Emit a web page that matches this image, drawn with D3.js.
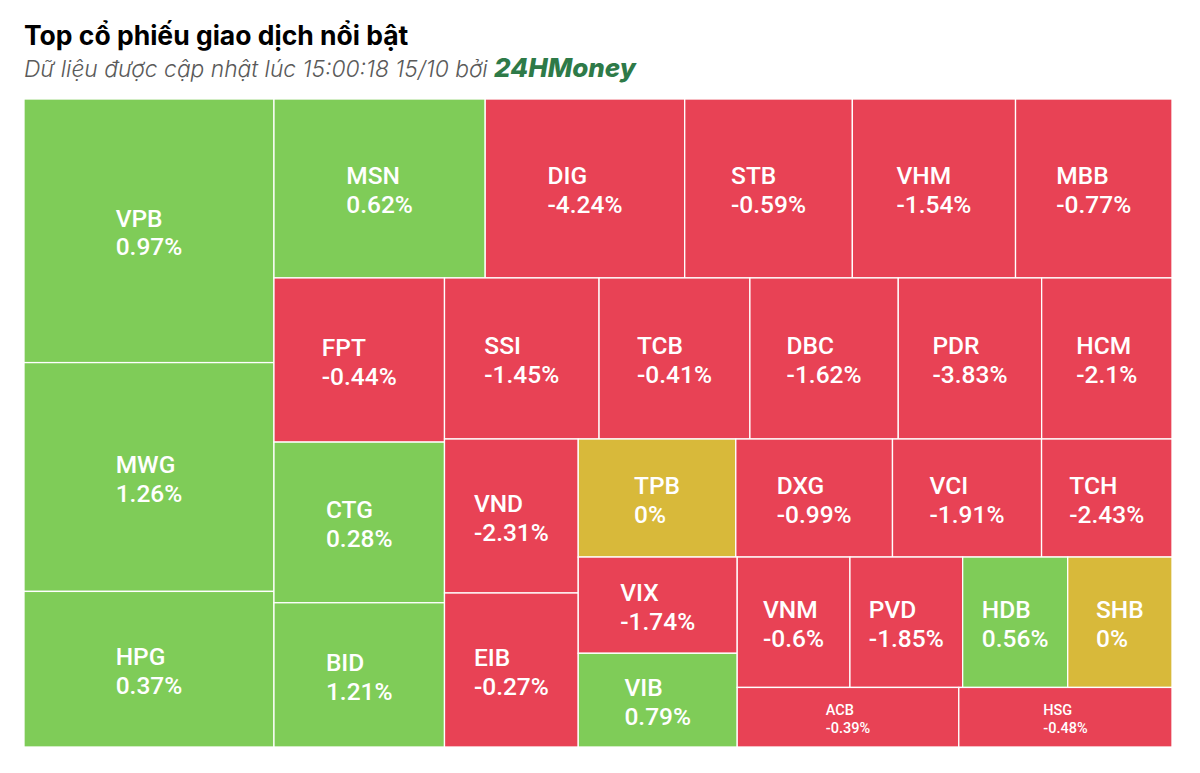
<!DOCTYPE html>
<html>
<head>
<meta charset="utf-8">
<script src="https://cdn.jsdelivr.net/npm/d3@7"></script>
<style>
  body { margin: 0; background: #ffffff; }
  svg { display: block; }
</style>
</head>
<body>
<svg id="chart" width="1200" height="773"></svg>
<script>
// ---------------- data ----------------
const tickers = ["VPB","MWG","HPG","MSN","DIG","STB","VHM","MBB","FPT","CTG",
                 "BID","SSI","TCB","DBC","PDR","HCM","VND","EIB","TPB","DXG",
                 "VCI","TCH","VIX","VIB","VNM","PVD","HDB","SHB","ACB","HSG"];
// relative trading value (cell area)
const tradeValues = [659,572,389,378,357,300,292,280,280,274,
                     246,249,243,239,231,210,206,206,186,185,
                     176,154,153,149,147,147,137,136,132,127];
// price change, %
const changes = [0.97,1.26,0.37,0.62,-4.24,-0.59,-1.54,-0.77,-0.44,0.28,
                 1.21,-1.45,-0.41,-1.62,-3.83,-2.1,-2.31,-0.27,0,-0.99,
                 -1.91,-2.43,-1.74,0.79,-0.6,-1.85,0.56,0,-0.39,-0.48];

const titleText = "Top cổ phiếu giao dịch nổi bật";
const subtitleText = "Dữ liệu được cập nhật lúc 15:00:18 15/10 bởi ";
const brandText = "24HMoney";

// ---------------- layout ----------------
const W = 1200, H = 773;
const plot = { x: 24, y: 99, w: 1148, h: 648 };

const colorUp = "#7fcc58", colorDown = "#e84255", colorFlat = "#d8b93a";
const colorFor = v => v > 0 ? colorUp : (v < 0 ? colorDown : colorFlat);

// Alternating-direction squarified tiling (column, row, column, ...)
function alternatingSquarify(parent, x0, y0, x1, y1) {
  const nodes = parent.children;
  let x = x0, y = y0, w = x1 - x0, h = y1 - y0;
  const scale = (w * h) / parent.value;
  let dir = 0; // 0: stacked column at left, 1: row at top
  let row = [], rowSum = 0;

  function ratio(total, a) {
    const t = dir === 0 ? total / h : total / w;
    const l = a / t;
    return Math.max(t / l, l / t);
  }
  function place() {
    const fake = { children: row, value: rowSum };
    if (dir === 0) {
      const cw = rowSum * scale / h;
      d3.treemapSlice(fake, x, y, x + cw, y + h);
      x += cw; w -= cw;
    } else {
      const ch = rowSum * scale / w;
      d3.treemapDice(fake, x, y, x + w, y + ch);
      y += ch; h -= ch;
    }
    row = []; rowSum = 0;
  }
  nodes.forEach(node => {
    if (row.length) {
      const a = row[row.length - 1].value * scale;
      const cur = ratio(rowSum * scale, a);
      const nxt = ratio((rowSum + node.value) * scale, a);
      if (nxt > cur) { place(); dir = 1 - dir; }
    }
    row.push(node); rowSum += node.value;
  });
  if (row.length) place();
}

const rootData = {
  name: "root",
  children: tickers.map((t, i) => ({ name: t, value: tradeValues[i], change: changes[i] }))
};
const root = d3.hierarchy(rootData).sum(d => d.value || 0);

d3.treemap()
  .tile(alternatingSquarify)
  .size([plot.w, plot.h])
  (root);

const svg = d3.select("#chart");
svg.append("rect").attr("width", W).attr("height", H).attr("fill", "#ffffff");

// title
svg.append("text")
  .attr("x", 24).attr("y", 45)
  .attr("font-family", "Inter, 'Noto Sans', sans-serif")
  .attr("font-weight", 700)
  .attr("font-size", 26.5)
  .attr("fill", "#000")
  .text(titleText);

const sub = svg.append("text")
  .attr("x", 24).attr("y", 77)
  .attr("font-family", "Inter, 'Noto Sans', sans-serif")
  .attr("font-style", "italic");
sub.append("tspan")
  .attr("font-size", 22.8).attr("fill", "#5a5a5a").attr("font-weight", 300)
  .text(subtitleText);
sub.append("tspan")
  .attr("font-size", 26).attr("fill", "#2e7a48").attr("font-weight", 800)
  .text(brandText);

// cells
const leaves = root.leaves();
const cells = svg.append("g")
  .attr("transform", `translate(${plot.x},${plot.y})`)
  .selectAll("g.cell")
  .data(leaves).join("g").attr("class", "cell");

cells.append("rect")
  .attr("x", d => d.x0).attr("y", d => d.y0)
  .attr("width", d => d.x1 - d.x0).attr("height", d => d.y1 - d.y0)
  .attr("fill", d => colorFor(d.data.change))
  .attr("stroke", "#ffffff").attr("stroke-width", 1.3);

cells.each(function(d) {
  const g = d3.select(this);
  const ch = d.y1 - d.y0;
  const small = ch < 75;
  const fs = small ? 14.5 : 24.5;
  const lh = small ? fs * 1.22 : fs * 1.18;
  const cx = (d.x0 + d.x1) / 2, cy = (d.y0 + d.y1) / 2 + (small ? 2 : 1.8);
  const t = g.append("text")
    .attr("font-family", "Roboto, 'Noto Sans', sans-serif")
    .attr("font-weight", 500)
    .attr("font-size", fs)
    .attr("fill", "#ffffff");
  const l1 = t.append("tspan").text(d.data.name);
  const l2 = t.append("tspan").text(d.data.change + "%");
  const bw = Math.max(l1.node().getComputedTextLength(), l2.node().getComputedTextLength());
  const bx = cx - bw / 2;
  const top = cy - lh;
  const base = (lh - fs * 1.172) / 2 + fs * 0.928;
  l1.attr("x", bx).attr("y", top + base);
  l2.attr("x", bx).attr("y", top + lh + base);
});
</script>
</body>
</html>
